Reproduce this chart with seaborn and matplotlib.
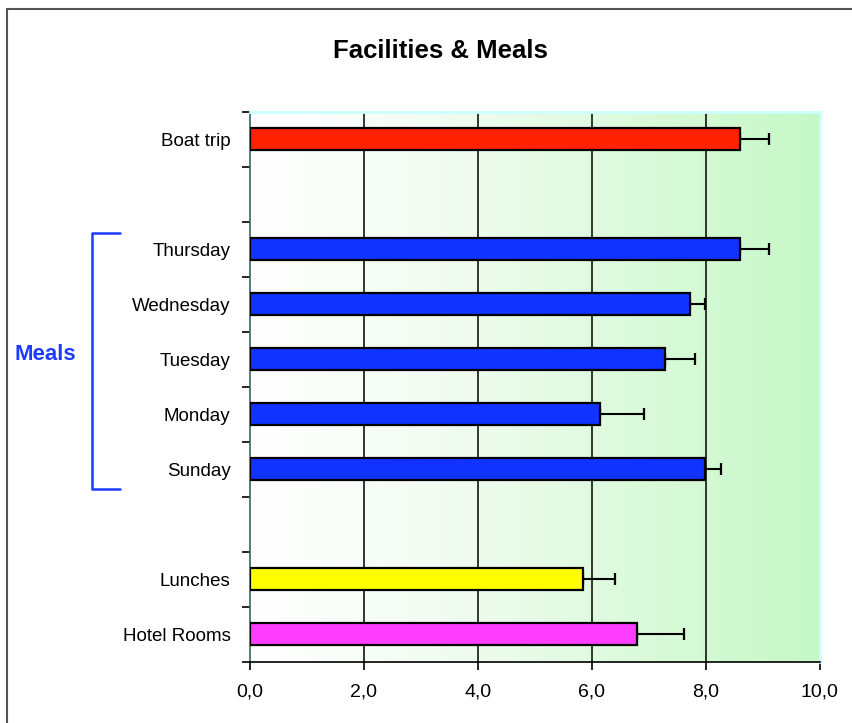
import numpy as np
import pandas as pd
import matplotlib
matplotlib.use('Agg')
import matplotlib.pyplot as plt
from matplotlib.colors import LinearSegmentedColormap
from matplotlib.patches import Rectangle
from matplotlib.lines import Line2D
import seaborn as sns

# Data (top to bottom); blank slots keep the gaps between groups
order = ['Boat trip', ' ', 'Thursday', 'Wednesday', 'Tuesday', 'Monday', 'Sunday',
         '  ', 'Lunches', 'Hotel Rooms']
categories = ['Boat trip', 'Thursday', 'Wednesday', 'Tuesday', 'Monday', 'Sunday',
              'Lunches', 'Hotel Rooms']
scores = [8.6, 8.6, 7.72, 7.29, 6.15, 7.99, 5.85, 6.80]
errors = [0.51, 0.51, 0.27, 0.52, 0.76, 0.27, 0.56, 0.81]
colors = ['#ff2200', '#1133ff', '#1133ff', '#1133ff', '#1133ff', '#1133ff',
          '#ffff00', '#ff3dff']
x_ticks = [0, 2, 4, 6, 8, 10]

df = pd.DataFrame({'item': categories, 'score': scores})

sns.set_style('white')
plt.rcParams['font.family'] = ['Liberation Sans', 'DejaVu Sans']
plt.rcParams['text.color'] = 'black'
plt.rcParams['xtick.color'] = 'black'
plt.rcParams['ytick.color'] = 'black'

fig = plt.figure(figsize=(8.53, 7.23), dpi=100)
ax = fig.add_axes([0.293, 0.085, 0.668, 0.7605])

# gradient background
grad = LinearSegmentedColormap.from_list('bg', ['#ffffff', '#f2fcf2', '#dcfadc', '#c6f8c6'])
ax.imshow(np.linspace(0, 1, 256).reshape(1, -1), cmap=grad, aspect='auto',
          extent=[0, 10, 9.5, -0.5], zorder=0)

sns.barplot(data=df, x='score', y='item', hue='item', order=order,
            palette=dict(zip(categories, colors)), orient='h', width=0.4,
            saturation=1, edgecolor='black', linewidth=1.6, legend=False, ax=ax, zorder=3)

ypos = [order.index(c) for c in categories]
ax.errorbar(scores, ypos, xerr=[np.zeros(len(errors)), errors], fmt='none',
            ecolor='black', elinewidth=1.5, capsize=4.5, capthick=1.6, zorder=2.5)

ax.set_xlim(0, 10)
ax.set_ylim(9.5, -0.5)
ax.set_xticks(x_ticks)
ax.set_xticklabels([f'{v:.1f}'.replace('.', ',') for v in x_ticks], fontsize=14)
for v in x_ticks[1:-1]:
    ax.axvline(v, color='black', lw=1.1, zorder=1)

ax.set_yticks(range(len(order)))
ax.set_yticklabels([o.strip() for o in order], fontsize=13.5)
ax.set_yticks(np.arange(-0.5, len(order), 1), minor=True)
ax.tick_params(axis='y', which='major', length=0, pad=14, labelcolor='black')
ax.tick_params(axis='y', which='minor', length=6, width=1.2, color='black', direction='out', left=True)
ax.tick_params(axis='x', which='major', length=6, width=1.2, color='black', direction='out',
               bottom=True, pad=10, labelcolor='black')
ax.set_xlabel('')
ax.set_ylabel('')

for s in ['top', 'right']:
    ax.spines[s].set_color('#ccffff')
    ax.spines[s].set_linewidth(2)
ax.spines['left'].set_color('#336666')
ax.spines['left'].set_linewidth(1.2)
ax.spines['bottom'].set_color('black')
ax.spines['bottom'].set_linewidth(1.2)

fig.text(0.516, 0.930, 'Facilities & Meals', ha='center', va='center',
         fontsize=18.5, fontweight='bold', color='black')

# Meals bracket
bx0, bx1 = 92 / 853, 120 / 853
by0, by1 = 1 - 233 / 723, 1 - 489 / 723
fig.add_artist(Line2D([bx1, bx0, bx0, bx1], [by0, by0, by1, by1],
                      color='#1a3cff', lw=1.8))
fig.text(45 / 853, 1 - 355 / 723, 'Meals', ha='center', va='center',
         fontsize=16, fontweight='bold', color='#1a3cff')

# outer frame
fig.add_artist(Rectangle((7 / 853, -0.05), 1.1, 1 - 9 / 723 + 0.05, fill=False,
                         edgecolor='#555555', lw=1.5, transform=fig.transFigure))

fig.savefig('out.png', dpi=100)
